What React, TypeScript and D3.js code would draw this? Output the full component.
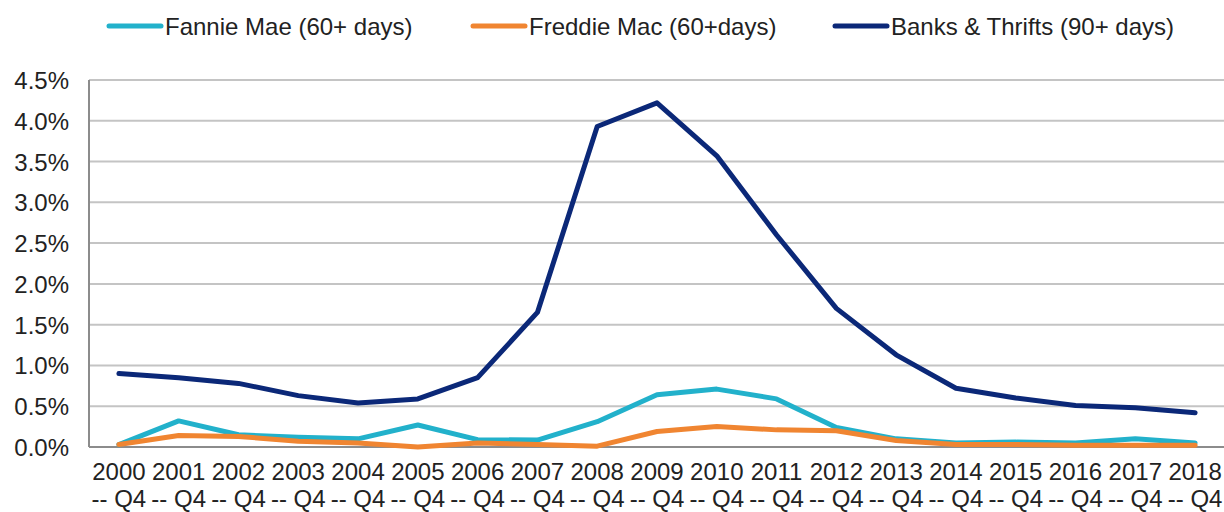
import React from "react";
import * as d3 from "d3";

const years = [
  "2000", "2001", "2002", "2003", "2004", "2005", "2006", "2007", "2008", "2009",
  "2010", "2011", "2012", "2013", "2014", "2015", "2016", "2017", "2018",
];

const fannieMae = [
  0.03, 0.32, 0.15, 0.12, 0.1, 0.27, 0.09, 0.085, 0.31, 0.64,
  0.71, 0.59, 0.24, 0.1, 0.05, 0.06, 0.05, 0.1, 0.05,
];
const freddieMac = [
  0.03, 0.14, 0.13, 0.07, 0.05, 0.0, 0.05, 0.03, 0.01, 0.19,
  0.25, 0.21, 0.2, 0.08, 0.03, 0.03, 0.02, 0.02, 0.02,
];
const banksThrifts = [
  0.9, 0.85, 0.78, 0.63, 0.54, 0.59, 0.85, 1.65, 3.93, 4.22,
  3.57, 2.6, 1.7, 1.13, 0.72, 0.6, 0.51, 0.48, 0.42,
];

const yTicks = [0, 0.5, 1, 1.5, 2, 2.5, 3, 3.5, 4, 4.5];

const series = [
  { name: "Fannie Mae (60+ days)", values: fannieMae, color: "#22b1cb" },
  { name: "Freddie Mac (60+days)", values: freddieMac, color: "#f08531" },
  { name: "Banks & Thrifts (90+ days)", values: banksThrifts, color: "#0b2878" },
];

const W = 1224;
const H = 512;
const margin = { left: 89, right: -1, top: 80, bottom: 65 };

const font = "Arial, 'Liberation Sans', sans-serif";

export default function App() {
  const x = d3
    .scalePoint<string>()
    .domain(years)
    .range([margin.left, W - margin.right])
    .padding(0.5);
  const y = d3
    .scaleLinear()
    .domain([0, 4.5])
    .range([H - margin.bottom, margin.top]);

  const line = d3
    .line<number>()
    .x((_, i) => x(years[i]) as number)
    .y((d) => y(d));

  // legend layout
  const legendX = [107, 471, 833];

  return (
    <>
      <style>{"body{margin:0}"}</style>
      <svg width={W} height={H} style={{ display: "block", fontFamily: font }}>
        <rect width={W} height={H} fill="#fff" />

        {/* legend */}
        {series.map((s, i) => (
          <g key={s.name} transform={`translate(${legendX[i]},26)`}>
            <line x1={2} x2={54} y1={0} y2={0} stroke={s.color} strokeWidth={5} strokeLinecap="round" />
            <text x={58} y={9} fontSize={24} fill="#222">
              {s.name}
            </text>
          </g>
        ))}

        {/* grid */}
        {yTicks.map((t) => (
          <g key={t}>
            {t > 0 && (
              <line
                x1={margin.left}
                x2={W}
                y1={y(t)}
                y2={y(t)}
                stroke="#c4c4c4"
                strokeWidth={2}
              />
            )}
            <text x={69} y={y(t) + 9} textAnchor="end" fontSize={24} fill="#222">
              {d3.format(".1f")(t) + "%"}
            </text>
          </g>
        ))}

        {/* axes */}
        <line x1={margin.left} x2={margin.left} y1={margin.top} y2={y(0)} stroke="#8c8c8c" strokeWidth={2} />
        <line x1={margin.left} x2={W} y1={y(0)} y2={y(0)} stroke="#8c8c8c" strokeWidth={2} />

        {/* x labels */}
        {years.map((yr) => (
          <text key={yr} textAnchor="middle" fontSize={24} fill="#222">
            <tspan x={x(yr)} y={480}>{yr}</tspan>
            <tspan x={x(yr)} y={507}>-- Q4</tspan>
          </text>
        ))}

        {/* lines */}
        {series.map((s) => (
          <path
            key={s.name}
            d={line(s.values) || ""}
            fill="none"
            stroke={s.color}
            strokeWidth={5}
            strokeLinejoin="round"
            strokeLinecap="round"
          />
        ))}
      </svg>
    </>
  );
}
